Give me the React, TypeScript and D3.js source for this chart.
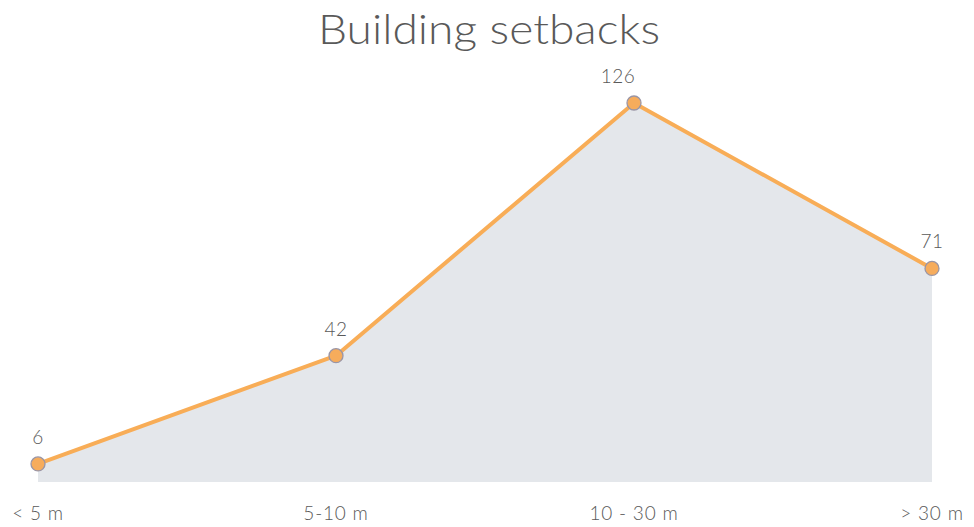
import React from "react";
import * as d3 from "d3";

const categories = ["< 5 m", "5-10 m", "10 - 30 m", "> 30 m"];
const values = [6, 42, 126, 71];
const title = "Building setbacks";

const W = 974;
const H = 527;

export default function App() {
  const x = d3.scalePoint<string>().domain(categories).range([38, 932]);
  const y = d3.scaleLinear().domain([0, 126]).range([482, 103]);
  const pts = categories.map((c, i) => ({ c, v: values[i] }));
  const area = d3
    .area<{ c: string; v: number }>()
    .x((d) => x(d.c) as number)
    .y0(y(0))
    .y1((d) => y(d.v));
  const line = d3
    .line<{ c: string; v: number }>()
    .x((d) => x(d.c) as number)
    .y((d) => y(d.v));
  const font = "Lato, 'Open Sans', sans-serif";
  return (
    <svg
      width={W}
      height={H}
      style={{ position: "absolute", left: 0, top: 0, background: "#fff" }}
    >
      <text
        x={489}
        y={44}
        textAnchor="middle"
        fontFamily={font}
        fontSize={42}
        fontWeight={300}
        fill="#595959"
        textLength={342}
        lengthAdjust="spacingAndGlyphs"
      >
        {title}
      </text>
      <path d={area(pts) || ""} fill="#E4E7EB" />
      <path
        d={line(pts) || ""}
        fill="none"
        stroke="#F8AD57"
        strokeWidth={4}
        strokeLinejoin="round"
      />
      {pts.map((d, i) => (
        <circle
          key={"c" + i}
          cx={x(d.c) as number}
          cy={y(d.v)}
          r={7}
          fill="#F6AC5C"
          stroke="#9A95A5"
          strokeWidth={1.3}
        />
      ))}
      {pts.map((d, i) => (
        <text
          key={"v" + i}
          x={(x(d.c) as number) + (i === 2 ? -16 : 0)}
          y={y(d.v) - 20}
          textAnchor="middle"
          fontFamily={font}
          fontSize={19}
          fontWeight={300}
          letterSpacing={0.5}
          fill="#595959"
        >
          {d.v}
        </text>
      ))}
      {categories.map((c, i) => (
        <text
          key={"x" + i}
          x={x(c) as number}
          y={520}
          textAnchor="middle"
          fontFamily={font}
          fontSize={19}
          fontWeight={300}
          letterSpacing={0.8}
          fill="#595959"
        >
          {c}
        </text>
      ))}
    </svg>
  );
}
